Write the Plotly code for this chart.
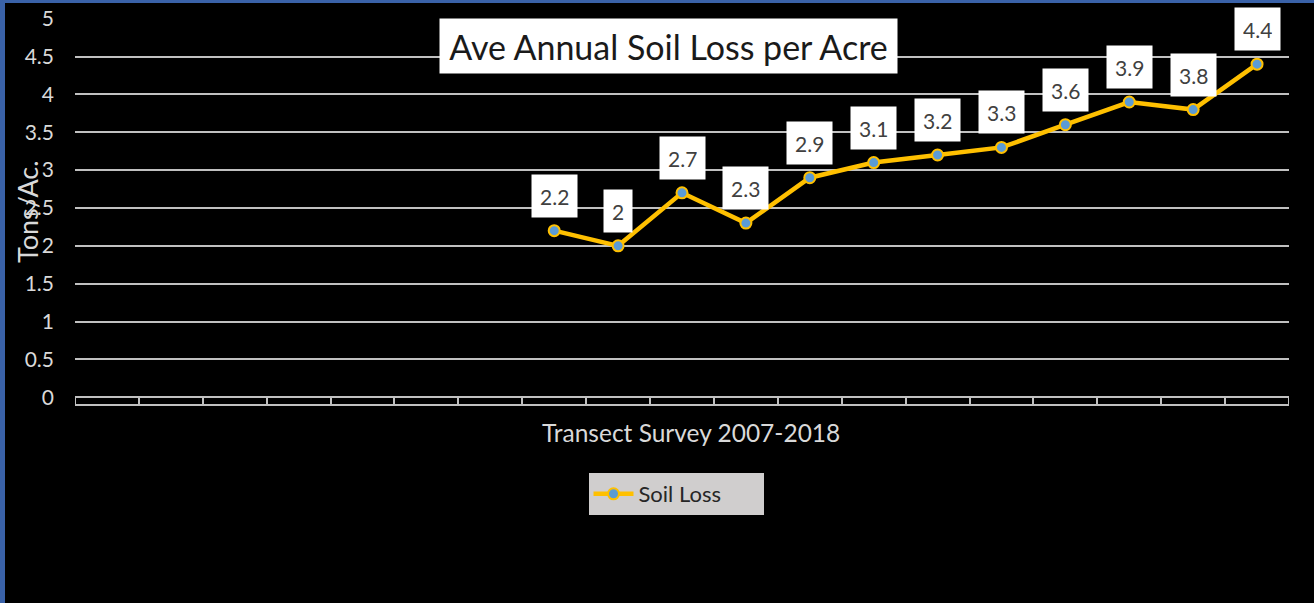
import plotly.graph_objects as go

# ---- data ----
years = [str(y) for y in range(2000, 2019)]
soil_loss = [None, None, None, None, None, None, None,
             2.2, 2.0, 2.7, 2.3, 2.9, 3.1, 3.2, 3.3, 3.6, 3.9, 3.8, 4.4]
labels = ["", "", "", "", "", "", "",
          "2.2", "2", "2.7", "2.3", "2.9", "3.1", "3.2", "3.3", "3.6", "3.9", "3.8", "4.4"]
y_ticks = [0, 0.5, 1, 1.5, 2, 2.5, 3, 3.5, 4, 4.5, 5]
y_tick_text = ["0", "0.5", "1", "1.5", "2", "2.5", "3", "3.5", "4", "4.5", "5"]

W, H = 1314, 603
ML, MR, MT, MB = 75, 25, 18, 199
PW = W - ML - MR
PH = H - MT - MB

FONT = "Lato, 'Open Sans', sans-serif"
GOLD = "#FFC000"
BLUE = "#5B9BD5"
GRID = "#C0C0C0"
TXT = "#D9D9D9"


def px_x(px):
    return (px - ML) / PW


def px_y(py):
    return (H - MB - py) / PH


fig = go.Figure()
fig.add_trace(go.Scatter(
    x=years, y=soil_loss, mode="lines+markers", name="Soil Loss",
    line=dict(color=GOLD, width=4.5),
    marker=dict(symbol="circle", size=11, color=BLUE, line=dict(color=GOLD, width=2)),
    connectgaps=False,
))

annotations = []
for i, (v, lab) in enumerate(zip(soil_loss, labels)):
    if v is None:
        continue
    annotations.append(dict(
        x=i, y=v, xref="x", yref="y", text=lab,
        showarrow=False, yanchor="bottom", xanchor="center", yshift=13,
        bgcolor="white", borderpad=8, height=26,
        font=dict(family=FONT, size=21, color="#404040"),
    ))

# chart title box
annotations.append(dict(
    x=px_x(668.5), y=px_y(46), xref="paper", yref="paper",
    text="Ave Annual Soil Loss per Acre", showarrow=False,
    xanchor="center", yanchor="middle", bgcolor="white", borderpad=6,
    width=445, height=42,
    font=dict(family=FONT, size=34, color="#1A1A1A"),
))
# x axis title
annotations.append(dict(
    x=px_x(691), y=px_y(432), xref="paper", yref="paper",
    text="Transect Survey 2007-2018", showarrow=False,
    xanchor="center", yanchor="middle",
    font=dict(family=FONT, size=24.5, color=TXT),
))
# y axis title
annotations.append(dict(
    x=px_x(27), y=px_y(212), xref="paper", yref="paper",
    text="Tons/Ac.", showarrow=False, textangle=-90,
    xanchor="center", yanchor="middle",
    font=dict(family=FONT, size=27, color=TXT),
))

shapes = [
    dict(type="rect", xref="paper", yref="paper",
         x0=px_x(0), x1=px_x(5), y0=px_y(H), y1=px_y(0),
         fillcolor="#3A62A8", line=dict(width=0), layer="above"),
    dict(type="rect", xref="paper", yref="paper",
         x0=px_x(0), x1=px_x(W), y0=px_y(3), y1=px_y(0),
         fillcolor="#3A62A8", line=dict(width=0), layer="above"),
    # end caps of the category axis box
    dict(type="line", xref="x", yref="y", x0=-0.5, x1=-0.5, y0=-0.09, y1=0,
         line=dict(color=GRID, width=2)),
    dict(type="line", xref="x", yref="y", x0=len(years) - 0.5, x1=len(years) - 0.5,
         y0=-0.09, y1=0, line=dict(color=GRID, width=2)),
]

fig.update_layout(
    width=W, height=H, autosize=False,
    margin=dict(l=ML, r=MR, t=MT, b=MB, pad=0, autoexpand=False),
    paper_bgcolor="black", plot_bgcolor="black",
    font=dict(family=FONT, color=TXT),
    showlegend=True,
    legend=dict(
        orientation="h", x=px_x(676), y=px_y(494), xanchor="center", yanchor="middle",
        bgcolor="#D0CECE", font=dict(family=FONT, size=22, color="#262626"),
        itemwidth=40, entrywidth=120,
    ),
    annotations=annotations,
    shapes=shapes,
    xaxis=dict(
        type="category", categoryorder="array", categoryarray=years,
        range=[-0.5, len(years) - 0.5], automargin=False,
        showticklabels=False, showgrid=False, zeroline=False,
        showline=True, linecolor=GRID, linewidth=2,
        ticks="inside", tickson="boundaries", ticklen=7, tickwidth=2, tickcolor=GRID,
        fixedrange=True,
    ),
    yaxis=dict(
        range=[-0.09, 5.01], tickvals=y_ticks, ticktext=y_tick_text, automargin=False,
        showgrid=True, gridcolor=GRID, gridwidth=1.5,
        zeroline=True, zerolinecolor=GRID, zerolinewidth=2,
        showline=False, ticks="", ticklabelstandoff=20,
        tickfont=dict(family=FONT, size=21, color=TXT),
        fixedrange=True,
    ),
)

fig.write_html("out.html", config={"displayModeBar": False},
               post_script="document.body.style.margin='0px';")
